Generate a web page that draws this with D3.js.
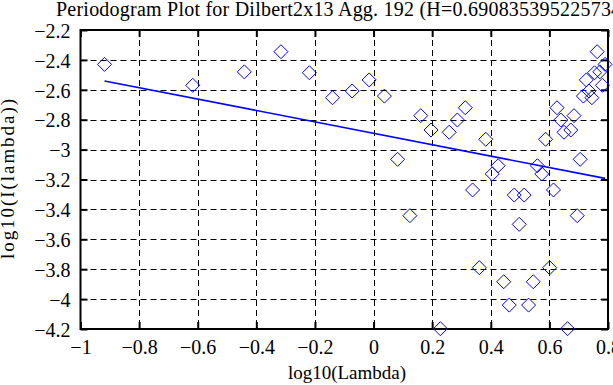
<!DOCTYPE html>
<html>
<head>
<meta charset="utf-8">
<script src="https://cdn.jsdelivr.net/npm/d3@7"></script>
</head>
<body style="margin:0;background:#fff">
<svg id="chart" width="613" height="385" style="display:block"></svg>
<script>
// ---- data ----
const titleText = "Periodogram Plot for Dilbert2x13 Agg. 192 (H=0.690835395225734)";
const xLabel = "log10(Lambda)";
const yLabel = "log10(I(lambda))";
const xTicks = [-1, -0.8, -0.6, -0.4, -0.2, 0, 0.2, 0.4, 0.6, 0.8];
const yTicks = [-2.2, -2.4, -2.6, -2.8, -3, -3.2, -3.4, -3.6, -3.8, -4, -4.2];
const logLambda = [
  -0.918, -0.617, -0.441, -0.316, -0.219, -0.140, -0.073, -0.015, 0.037, 0.082,
   0.124,  0.161,  0.196,  0.228,  0.258,  0.286,  0.313,  0.338, 0.361, 0.383,
   0.405,  0.425,  0.444,  0.463,  0.480,  0.497,  0.514,  0.529, 0.545, 0.559,
   0.574,  0.587,  0.601,  0.614,  0.626,  0.639,  0.650,  0.662, 0.673, 0.684,
   0.695,  0.705,  0.716,  0.726,  0.735,  0.745,  0.754,  0.763, 0.772, 0.781,
   0.790
];
const logI = [
  -2.430, -2.570, -2.480, -2.345, -2.486, -2.653, -2.608, -2.534, -2.642, -3.065,
  -3.442, -2.773, -2.869, -4.198, -2.884, -2.802, -2.720, -3.270, -3.790, -2.931,
  -3.163, -3.108, -3.884, -4.040, -3.304, -3.500, -3.304, -4.040, -3.884, -3.108,
  -3.163, -2.931, -3.790, -3.270, -2.720, -2.802, -2.884, -4.198, -2.869, -2.773,
  -3.442, -3.065, -2.642, -2.534, -2.608, -2.653, -2.486, -2.345, -2.480, -2.570,
  -2.430
];
const fitSlope = -0.38167;
const fitIntercept = -2.891;

// ---- layout ----
const FONT = '"Liberation Serif", "Times New Roman", serif';
const svg = d3.select("#chart");
const L = 80.5, R = 608, T = 30, B = 329;
const x = d3.scaleLinear().domain([-1, 0.8]).range([L, R]);
const y = d3.scaleLinear().domain([-4.2, -2.2]).range([B, T]);

// grid
const grid = svg.append("g").attr("stroke", "#000").attr("stroke-width", 1)
  .attr("stroke-dasharray", "6,4").attr("fill", "none");
xTicks.slice(1, -1).forEach(t => {
  grid.append("line").attr("x1", Math.round(x(t)) + 0.5).attr("x2", Math.round(x(t)) + 0.5)
    .attr("y1", T).attr("y2", B);
});
yTicks.slice(1, -1).forEach(t => {
  grid.append("line").attr("y1", Math.round(y(t)) + 0.5).attr("y2", Math.round(y(t)) + 0.5)
    .attr("x1", L).attr("x2", R);
});

// axes
const fmt = d => d3.format("")(d).replace("-", "\u2212");
const axB = svg.append("g").attr("transform", `translate(0,${B})`)
  .call(d3.axisBottom(x).tickValues(xTicks).tickSize(-7).tickPadding(11).tickFormat(fmt));
const axT = svg.append("g").attr("transform", `translate(0,${T})`)
  .call(d3.axisTop(x).tickValues(xTicks).tickSize(-7).tickFormat(""));
const axL = svg.append("g").attr("transform", `translate(${L},0)`)
  .call(d3.axisLeft(y).tickValues(yTicks).tickSize(-7).tickPadding(10).tickFormat(fmt));
const axR = svg.append("g").attr("transform", `translate(${R},0)`)
  .call(d3.axisRight(y).tickValues(yTicks).tickSize(-7).tickFormat(""));
[axB, axT, axL, axR].forEach(a => {
  a.attr("font-family", null).attr("font-size", null);
  a.select(".domain").remove();
  a.selectAll(".tick line").attr("stroke", "#000").attr("stroke-width", 2);
  a.selectAll("text").style("font-family", FONT).style("font-size", "20px").attr("fill", "#000");
});
axL.selectAll("text").attr("dy", "0.36em");

// frame
svg.append("rect").attr("x", L).attr("y", T).attr("width", R - L).attr("height", B - T)
  .attr("fill", "none").attr("stroke", "#000").attr("stroke-width", 2);

// fit line
const xmin = d3.min(logLambda), xmax = d3.max(logLambda);
svg.append("line")
  .attr("x1", x(xmin)).attr("y1", y(fitIntercept + fitSlope * xmin))
  .attr("x2", x(xmax)).attr("y2", y(fitIntercept + fitSlope * xmax))
  .attr("stroke", "#0000ff").attr("stroke-width", 1.6);

// points
const s = 7;
svg.append("g").selectAll("path").data(logLambda.map((v, i) => [v, logI[i]])).join("path")
  .attr("d", `M0,${-s}L${s},0L0,${s}L${-s},0Z`)
  .attr("transform", d => `translate(${x(d[0])},${y(d[1])})`)
  .attr("fill", "none").attr("stroke", "#0000ff").attr("stroke-width", 1);

// labels
svg.append("text").attr("x", 56).attr("y", 16).attr("text-anchor", "start")
  .attr("textLength", 572).attr("lengthAdjust", "spacing")
  .style("font-family", FONT).style("font-size", "20px").text(titleText);
svg.append("text").attr("x", 347).attr("y", 379).attr("text-anchor", "middle")
  .style("font-family", FONT).style("font-size", "19px").text(xLabel);
svg.append("text").attr("transform", `translate(14,179) rotate(-90)`)
  .attr("text-anchor", "middle").attr("textLength", 160).attr("lengthAdjust", "spacing")
  .style("font-family", FONT).style("font-size", "19px").text(yLabel);
</script>
</body>
</html>
